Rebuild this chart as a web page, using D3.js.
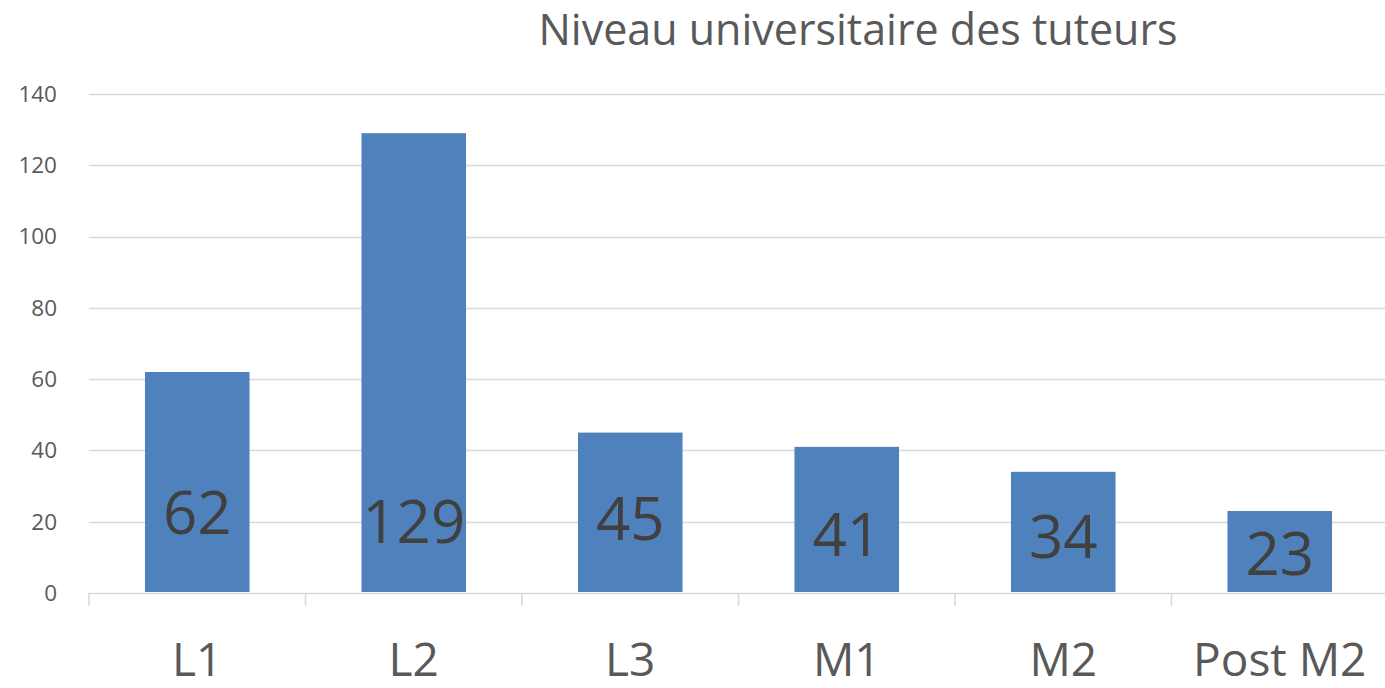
<!DOCTYPE html>
<html>
<head>
<meta charset="utf-8">
<script src="https://cdn.jsdelivr.net/npm/d3@7"></script>
<style>
  html, body { margin: 0; padding: 0; background: #fff; }
  svg { display: block; font-family: "Open Sans", "Noto Sans", sans-serif; }
</style>
</head>
<body>
<svg id="chart" width="1385" height="688"></svg>
<script>
const title = "Niveau universitaire des tuteurs";
const categories = ["L1", "L2", "L3", "M1", "M2", "Post M2"];
const values = [62, 129, 45, 41, 34, 23];
const yTicks = [0, 20, 40, 60, 80, 100, 120, 140];
// vertical anchor (in data units) where each value label is centred
const labelAnchor = [22.6, 20, 21, 16.4, 15.9, 11];

(function () {
const svg = d3.select("#chart");
const plotLeft = 89, plotRight = 1388, plotTop = 94, plotBottom = 593;

const x = d3.scaleBand().domain(categories).range([plotLeft, plotRight]).paddingInner(0.517).paddingOuter(0.2585);
const y = d3.scaleLinear().domain([0, 140]).range([plotBottom, plotTop]);

// gridlines
svg.append("g").selectAll("line").data(yTicks.filter(d => d > 0)).join("line")
  .attr("x1", plotLeft).attr("x2", 1385)
  .attr("y1", d => Math.round(y(d)) + 0.5).attr("y2", d => Math.round(y(d)) + 0.5)
  .attr("stroke", "#d9d9d9").attr("stroke-width", 1.5);

// y labels
svg.append("g").selectAll("text").data(yTicks).join("text")
  .attr("x", 57).attr("y", d => y(d)).attr("dy", "0.35em")
  .attr("text-anchor", "end").attr("font-size", 22.5).attr("fill", "#595959")
  .text(d => d);

// bars
svg.append("g").selectAll("rect").data(values).join("rect")
  .attr("x", (d, i) => x(categories[i]))
  .attr("width", x.bandwidth())
  .attr("y", d => y(d))
  .attr("height", d => y(0) - y(d) - 1)
  .attr("fill", "#4f81bd");

// x axis line + ticks
const step = x.step();
svg.append("line").attr("x1", plotLeft).attr("x2", 1385)
  .attr("y1", plotBottom + 0.5).attr("y2", plotBottom + 0.5)
  .attr("stroke", "#d9d9d9").attr("stroke-width", 1.5);
svg.append("g").selectAll("line").data(d3.range(categories.length + 1)).join("line")
  .attr("x1", i => plotLeft + i * step).attr("x2", i => plotLeft + i * step)
  .attr("y1", plotBottom).attr("y2", plotBottom + 13)
  .attr("stroke", "#d9d9d9").attr("stroke-width", 1.5);

// category labels
svg.append("g").selectAll("text").data(categories).join("text")
  .attr("x", d => x(d) + x.bandwidth() / 2).attr("y", 676)
  .attr("text-anchor", "middle").attr("font-size", 46).attr("fill", "#595959")
  .text(d => d);

// value labels
svg.append("g").selectAll("text").data(values).join("text")
  .attr("x", (d, i) => x(categories[i]) + x.bandwidth() / 2)
  .attr("y", (d, i) => y(labelAnchor[i])).attr("dy", "0.36em")
  .attr("text-anchor", "middle").attr("font-size", 60).attr("fill", "#404040")
  .text(d => d);

// title
svg.append("text").attr("x", 858).attr("y", 45)
  .attr("text-anchor", "middle").attr("font-size", 43).attr("fill", "#595959")
  .text(title);
})();
</script>
</body>
</html>
